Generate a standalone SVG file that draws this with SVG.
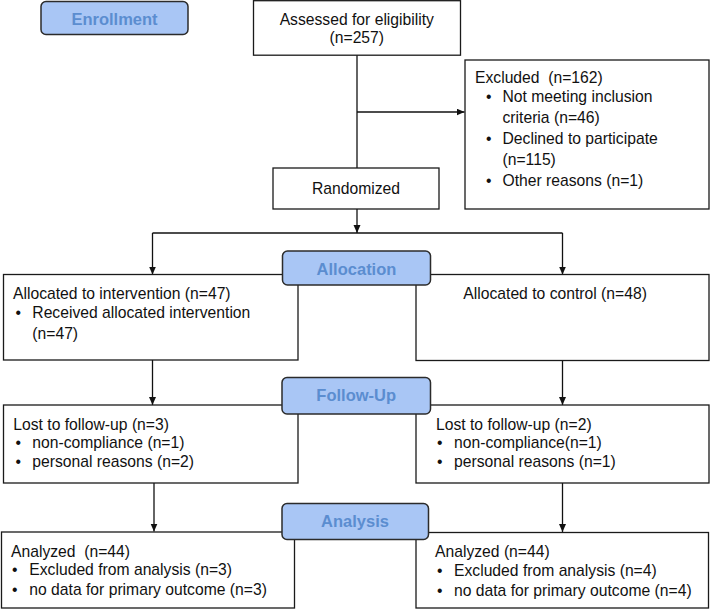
<svg xmlns="http://www.w3.org/2000/svg" width="710" height="610" viewBox="0 0 710 610">
<defs>
<style>
.box{fill:#fff;stroke:#1a1a1a;stroke-width:1.3}
.lbl{fill:#a9c6f5;stroke:#2b2b2b;stroke-width:1.5}
.lt{font-family:"Liberation Sans",Arial,sans-serif;font-weight:bold;font-size:16.5px;fill:#5b8dd0;text-anchor:middle}
.t{font-family:"Liberation Sans",Arial,sans-serif;font-size:15.7px;fill:#111}
.c{text-anchor:middle}
.ln{fill:none;stroke:#111;stroke-width:1.3}
</style>
<marker id="ah" markerUnits="userSpaceOnUse" markerWidth="9" markerHeight="8" refX="8" refY="3.5" orient="auto">
<path d="M0,0 L8,3.5 L0,7 z" fill="#111"/>
</marker>
</defs>
<rect width="710" height="610" fill="#fff"/>

<g id="connectors">
<path class="ln" d="M357,55 V168"/>
<path class="ln" d="M357,112 H464.5" marker-end="url(#ah)"/>
<path class="ln" d="M357,209 V233" marker-end="url(#ah)"/>
<path class="ln" d="M152.5,233 H562.5"/>
<path class="ln" d="M152.5,233 V274.5" marker-end="url(#ah)"/>
<path class="ln" d="M562.5,233 V274.5" marker-end="url(#ah)"/>
<path class="ln" d="M152.5,360 V405" marker-end="url(#ah)"/>
<path class="ln" d="M562.5,360 V405" marker-end="url(#ah)"/>
<path class="ln" d="M154,483 V531.5" marker-end="url(#ah)"/>
<path class="ln" d="M562.5,483 V532" marker-end="url(#ah)"/>
</g>

<g id="enrollment">
<rect class="lbl" x="41" y="1.5" width="147" height="33" rx="5"/>
<text class="lt" x="114.5" y="24.5">Enrollment</text>
</g>

<g id="assessed">
<rect class="box" x="253.5" y="0.7" width="207" height="54.5"/>
<text class="t c" x="356.8" y="25">Assessed for eligibility</text>
<text class="t c" x="356.8" y="43">(n=257)</text>
</g>

<g id="excluded">
<rect class="box" x="465" y="60" width="244" height="149"/>
<text class="t" x="475" y="83" xml:space="preserve">Excluded  (n=162)</text>
<text class="t" x="486" y="102">•</text>
<text class="t" x="502.5" y="102">Not meeting inclusion</text>
<text class="t" x="502.5" y="123">criteria (n=46)</text>
<text class="t" x="486" y="144">•</text>
<text class="t" x="502.5" y="144">Declined to participate</text>
<text class="t" x="502.5" y="164.5">(n=115)</text>
<text class="t" x="486" y="186">•</text>
<text class="t" x="502.5" y="186">Other reasons (n=1)</text>
</g>

<g id="randomized">
<rect class="box" x="273" y="168" width="166" height="41"/>
<text class="t c" x="356" y="193.5">Randomized</text>
</g>

<g id="alloc-intervention">
<rect class="box" x="3.5" y="274.5" width="294.5" height="85.5"/>
<text class="t" x="13" y="299.3">Allocated to intervention (n=47)</text>
<text class="t" x="15.5" y="318.3">•</text>
<text class="t" x="32.3" y="318.3">Received allocated intervention</text>
<text class="t" x="32.3" y="338.5">(n=47)</text>
</g>

<g id="alloc-control">
<rect class="box" x="416" y="274.5" width="293" height="86"/>
<text class="t" x="463.3" y="299.3">Allocated to control (n=48)</text>
</g>

<g id="allocation">
<rect class="lbl" x="282.5" y="251" width="148" height="34" rx="5"/>
<text class="lt" x="356.5" y="274.5">Allocation</text>
</g>

<g id="lost-intervention">
<rect class="box" x="3.5" y="405" width="294.5" height="78"/>
<text class="t" x="13.3" y="430">Lost to follow-up (n=3)</text>
<text class="t" x="15.5" y="448.3">•</text>
<text class="t" x="32.3" y="448.3">non-compliance (n=1)</text>
<text class="t" x="15.5" y="466.7">•</text>
<text class="t" x="32.3" y="466.7">personal reasons (n=2)</text>
</g>

<g id="lost-control">
<rect class="box" x="416" y="405" width="293" height="78"/>
<text class="t" x="436" y="430">Lost to follow-up (n=2)</text>
<text class="t" x="437" y="448.3">•</text>
<text class="t" x="454" y="448.3">non-compliance(n=1)</text>
<text class="t" x="437" y="466.7">•</text>
<text class="t" x="454" y="466.7">personal reasons (n=1)</text>
</g>

<g id="followup">
<rect class="lbl" x="282" y="377.5" width="148.5" height="36.5" rx="5"/>
<text class="lt" x="356.2" y="401">Follow-Up</text>
</g>

<g id="analyzed-intervention">
<rect class="box" x="1.5" y="532" width="293" height="76"/>
<text class="t" x="11" y="556.7" xml:space="preserve">Analyzed  (n=44)</text>
<text class="t" x="12" y="575">•</text>
<text class="t" x="29.3" y="575">Excluded from analysis (n=3)</text>
<text class="t" x="12" y="595">•</text>
<text class="t" x="29.3" y="595">no data for primary outcome (n=3)</text>
</g>

<g id="analyzed-control">
<rect class="box" x="416" y="532.5" width="292.5" height="75.5"/>
<text class="t" x="435" y="556.7">Analyzed (n=44)</text>
<text class="t" x="437" y="575.5">•</text>
<text class="t" x="454" y="575.5">Excluded from analysis (n=4)</text>
<text class="t" x="437" y="596">•</text>
<text class="t" x="454" y="596">no data for primary outcome (n=4)</text>
</g>

<g id="analysis">
<rect class="lbl" x="282" y="503.5" width="146.5" height="36" rx="5"/>
<text class="lt" x="355" y="527">Analysis</text>
</g>
</svg>
